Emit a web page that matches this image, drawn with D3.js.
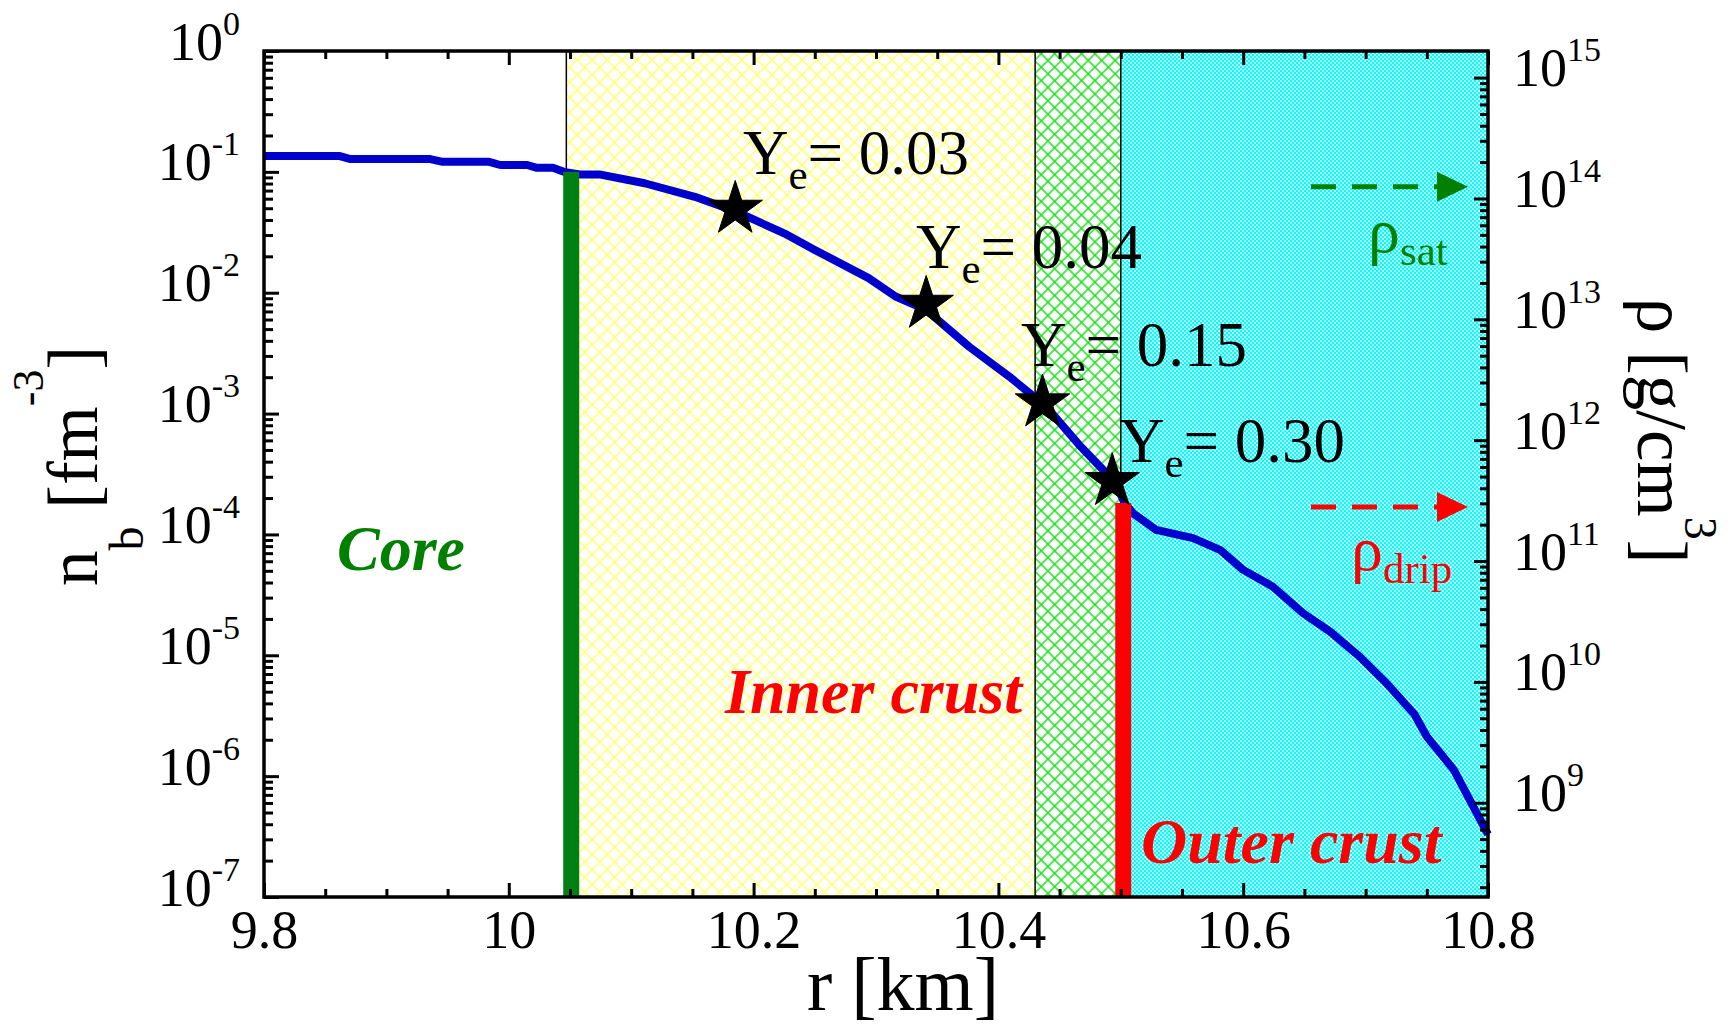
<!DOCTYPE html>
<html><head><meta charset="utf-8">
<script src="https://cdn.jsdelivr.net/npm/d3@7"></script>
<style>body{margin:0;background:#fff}</style>
</head><body><svg id="c" width="1735" height="1029"></svg>
<script>
// ---------- data ----------
const radius = [9.800, 9.862, 9.870, 9.935, 9.946, 9.984, 9.993, 10.015, 10.023, 10.036, 10.045, 10.058, 10.074,
  10.111, 10.152, 10.185, 10.225, 10.250, 10.294, 10.316, 10.341, 10.376, 10.409, 10.439, 10.466, 10.496,
  10.503, 10.510, 10.529, 10.559, 10.581, 10.600, 10.624, 10.649, 10.671, 10.695, 10.717, 10.740, 10.750, 10.772, 10.800];
const density = [0.135, 0.135, 0.128, 0.128, 0.121, 0.121, 0.114, 0.114, 0.108, 0.108, 0.100, 0.0953, 0.0953,
  0.0805, 0.0622, 0.0473, 0.0310, 0.0226, 0.0132, 0.0093, 0.0072, 0.00358, 0.00202, 0.00114, 0.00055, 0.000265,
  0.000182, 0.000150, 0.000109, 0.0000931, 0.0000746, 0.0000509, 0.0000371, 0.0000223, 0.0000157, 0.00000977,
  0.00000589, 0.00000324, 0.00000213, 0.00000113, 0.00000033];
const starRadius = [10.185, 10.341, 10.436, 10.493];
const starDensity = [0.0492, 0.00805, 0.00123, 0.000275];
const starLabels = ["0.03", "0.04", "0.15", "0.30"];
const xTicks = [9.8, 10.0, 10.2, 10.4, 10.6, 10.8];
const xTickLabels = ["9.8", "10", "10.2", "10.4", "10.6", "10.8"];
const yExponents = [0, -1, -2, -3, -4, -5, -6, -7];
const rhoExponents = [9, 10, 11, 12, 13, 14, 15];
const regionStart = [10.047, 10.43, 10.5];
const regionEnd = [10.43, 10.5, 10.8];
const regionNames = ["yellow", "green", "cyan"];
const barRadius = [10.051, 10.502];
const barDensity = [0.100, 0.000182];
const barColors = ["#007f12", "#ff0000"];
const rhoMarks = [1.25e14, 2.8e11];
const rhoMarkColors = ["#008000", "#ff0000"];
const massFactor = 1.66e15; // g/cm^3 per fm^-3

// ---------- layout ----------
const L = 264, R = 1488, T = 51, B = 897;
const FONT = "Liberation Serif, Times New Roman, serif";
const svg = d3.select("#c");
const x = d3.scaleLinear().domain([9.8, 10.8]).range([L, R]);
const y = d3.scaleLog().domain([1e-7, 1]).range([B, T]);
const yR = d3.scaleLog().domain([1e-7 * massFactor, massFactor]).range([B, T]);

// patterns
const defs = svg.append("defs");
const py = defs.append("pattern").attr("id", "yellow").attr("patternUnits", "userSpaceOnUse")
  .attr("width", 10.6).attr("height", 10.6).attr("patternTransform", "rotate(45)");
py.append("rect").attr("width", 10.6).attr("height", 10.6).attr("fill", "#fff");
py.append("path").attr("d", "M0,5.3H10.6M5.3,0V10.6").attr("stroke", "#ffff70").attr("stroke-width", 1.5);
const pg = defs.append("pattern").attr("id", "green").attr("patternUnits", "userSpaceOnUse")
  .attr("width", 9.5).attr("height", 9.5).attr("patternTransform", "rotate(45)");
pg.append("rect").attr("width", 9.5).attr("height", 9.5).attr("fill", "#fff");
pg.append("path").attr("d", "M0,4.75H9.5M4.75,0V9.5").attr("stroke", "#11e011").attr("stroke-width", 1.4);
const pc = defs.append("pattern").attr("id", "cyan").attr("patternUnits", "userSpaceOnUse")
  .attr("width", 4).attr("height", 4);
pc.append("rect").attr("width", 4).attr("height", 4).attr("fill", "#00ffff");
pc.append("rect").attr("x", 0.2).attr("y", 0.2).attr("width", 1.7).attr("height", 1.7).attr("fill", "#fff");
pc.append("rect").attr("x", 2.2).attr("y", 2.2).attr("width", 1.7).attr("height", 1.7).attr("fill", "#fff");

// regions
svg.append("g").selectAll("rect").data(regionStart).join("rect")
  .attr("x", d => x(d)).attr("y", T)
  .attr("width", (d, i) => x(regionEnd[i]) - x(d)).attr("height", B - T)
  .attr("fill", (d, i) => `url(#${regionNames[i]})`);
svg.append("g").selectAll("line").data(regionStart).join("line")
  .attr("x1", d => x(d)).attr("x2", d => x(d)).attr("y1", T).attr("y2", B)
  .attr("stroke", "#000").attr("stroke-width", 1.5);

// curve
const line = d3.line().x(d => x(d[0])).y(d => y(d[1]));
svg.append("path").datum(radius.map((r, i) => [r, density[i]]))
  .attr("d", line).attr("fill", "none").attr("stroke", "#0000cd")
  .attr("stroke-width", 8).attr("stroke-linejoin", "round");

// bars
svg.append("g").selectAll("rect").data(barRadius).join("rect")
  .attr("x", d => x(d) - 8).attr("width", 16)
  .attr("y", (d, i) => y(barDensity[i])).attr("height", (d, i) => B - y(barDensity[i]))
  .attr("fill", (d, i) => barColors[i]);

// stars
const starPath = d3.symbol(d3.symbolStar, 920);
svg.append("g").selectAll("path").data(starRadius).join("path")
  .attr("d", starPath).attr("fill", "#000").attr("stroke", "#000").attr("stroke-width", 1)
  .attr("transform", (d, i) => `translate(${x(d)},${y(starDensity[i])})`);

// Ye labels
const yeAnchor = [[743, 174], [916, 268], [1021, 366], [1119, 462]];
starLabels.forEach((lab, i) => {
  const t = svg.append("text").attr("x", yeAnchor[i][0]).attr("y", yeAnchor[i][1])
    .attr("font-family", FONT).attr("font-size", 63).attr("fill", "#000");
  t.append("tspan").text("Y");
  t.append("tspan").attr("font-size", 43).attr("dy", 15).text("e");
  t.append("tspan").attr("dy", -15).text("= " + lab);
});

// rho arrows
rhoMarks.forEach((v, i) => {
  const yy = yR(v), c = rhoMarkColors[i];
  svg.append("line").attr("x1", 1311).attr("x2", 1440).attr("y1", yy).attr("y2", yy)
    .attr("stroke", c).attr("stroke-width", 5).attr("stroke-dasharray", "25,16");
  svg.append("path").attr("d", `M1437,${yy - 15}L1468,${yy}L1437,${yy + 15}Z`).attr("fill", c);
});
function rhoLabel(xp, yb, sub, color) {
  const t = svg.append("text").attr("x", xp).attr("y", yb).attr("font-family", FONT)
    .attr("font-size", 64).attr("fill", color);
  t.append("tspan").text("ρ");
  t.append("tspan").attr("font-size", 43).attr("dy", 13).text(sub);
}
rhoLabel(1368, 252, "sat", "#008000");
rhoLabel(1351, 570, "drip", "#ff0000");

// region labels
function regionLabel(xp, yb, txt, color) {
  svg.append("text").attr("x", xp).attr("y", yb).attr("font-family", FONT)
    .attr("font-size", 64).attr("font-weight", "bold").attr("font-style", "italic")
    .attr("fill", color).text(txt);
}
regionLabel(337, 570, "Core", "#008000");
regionLabel(725, 713, "Inner crust", "#ff0000");
regionLabel(1141, 863, "Outer crust", "#ff0000");

// ---------- axes ----------
function styleAxis(g) {
  g.attr("font-family", FONT).attr("font-size", 54);
  g.select(".domain").remove();
  g.selectAll(".tick line").attr("stroke", "#000").attr("stroke-width", 3);
  g.selectAll("text").attr("font-family", FONT).attr("font-size", 54).attr("fill", "#000");
}
function noText(g) { g.selectAll("text").remove(); }
const xMinor = d3.range(9.85, 10.8, 0.05).filter(v => Math.abs(Math.round(v * 5) - v * 5) > 1e-6);
// bottom
svg.append("g").attr("transform", `translate(0,${B})`)
  .call(d3.axisBottom(x).tickValues(xTicks).tickFormat((d, i) => xTickLabels[i])
    .tickSizeInner(-14).tickSizeOuter(0).tickPadding(13)).call(styleAxis);
svg.append("g").attr("transform", `translate(0,${B})`)
  .call(d3.axisBottom(x).tickValues(xMinor).tickSizeInner(-8).tickSizeOuter(0)).call(styleAxis).call(noText);
// top
svg.append("g").attr("transform", `translate(0,${T})`)
  .call(d3.axisTop(x).tickValues(xTicks).tickSizeInner(-14).tickSizeOuter(0)).call(styleAxis).call(noText);
svg.append("g").attr("transform", `translate(0,${T})`)
  .call(d3.axisTop(x).tickValues(xMinor).tickSizeInner(-8).tickSizeOuter(0)).call(styleAxis).call(noText);

function powLabels(g, exps) {
  g.selectAll(".tick text").each(function (d, i) {
    const t = d3.select(this).text(null).attr("dy", "8px");
    t.append("tspan").text("10");
    t.append("tspan").attr("font-size", 34).attr("dy", -25).text(String(exps[i]));
  });
}
// left
const leftMajor = yExponents.map(e => Math.pow(10, e));
const leftMinor = [];
yExponents.slice(1).forEach(e => { for (let k = 2; k <= 9; k++) leftMinor.push(k * Math.pow(10, e)); });
svg.append("g").attr("transform", `translate(${L},0)`)
  .call(d3.axisLeft(y).tickValues(leftMajor).tickFormat(() => "")
    .tickSizeInner(-15).tickSizeOuter(0).tickPadding(24)).call(styleAxis)
  .call(g => powLabels(g, yExponents));
svg.append("g").attr("transform", `translate(${L},0)`)
  .call(d3.axisLeft(y).tickValues(leftMinor).tickSizeInner(-9).tickSizeOuter(0)).call(styleAxis).call(noText);
// right
const rhoMajor = rhoExponents.map(e => Math.pow(10, e));
const rhoMinor = [];
[8].concat(rhoExponents).forEach(e => { for (let k = 2; k <= 9; k++) { const v = k * Math.pow(10, e); if (v > yR.domain()[0] && v < yR.domain()[1]) rhoMinor.push(v); } });
svg.append("g").attr("transform", `translate(${R},0)`)
  .call(d3.axisRight(yR).tickValues(rhoMajor).tickFormat(() => "")
    .tickSizeInner(-14).tickSizeOuter(0).tickPadding(25)).call(styleAxis)
  .call(g => powLabels(g, rhoExponents));
svg.append("g").attr("transform", `translate(${R},0)`)
  .call(d3.axisRight(yR).tickValues(rhoMinor).tickSizeInner(-8).tickSizeOuter(0)).call(styleAxis).call(noText);

// frame
svg.append("rect").attr("x", L).attr("y", T).attr("width", R - L).attr("height", B - T)
  .attr("fill", "none").attr("stroke", "#000").attr("stroke-width", 3.5);

// axis titles
svg.append("text").attr("x", 903).attr("y", 1010).attr("text-anchor", "middle")
  .attr("font-family", FONT).attr("font-size", 76).attr("fill", "#000").text("r [km]");
const yl = svg.append("text").attr("transform", "translate(97,586) rotate(-90)")
  .attr("font-family", FONT).attr("font-size", 71).attr("fill", "#000");
yl.append("tspan").text("n");
yl.append("tspan").attr("font-size", 48).attr("dy", 46).text("b");
yl.append("tspan").attr("dy", -46).text(" [fm");
yl.append("tspan").attr("font-size", 44).attr("dy", -54).text("-3");
yl.append("tspan").attr("dy", 54).text("]");
const yr = svg.append("text").attr("transform", "translate(1638,298) rotate(90)")
  .attr("font-family", FONT).attr("font-size", 71).attr("fill", "#000");
yr.append("tspan").text("ρ [g/cm");
yr.append("tspan").attr("font-size", 46).attr("dy", -47).text("3");
yr.append("tspan").attr("dy", 47).text("]");
</script></body></html>
